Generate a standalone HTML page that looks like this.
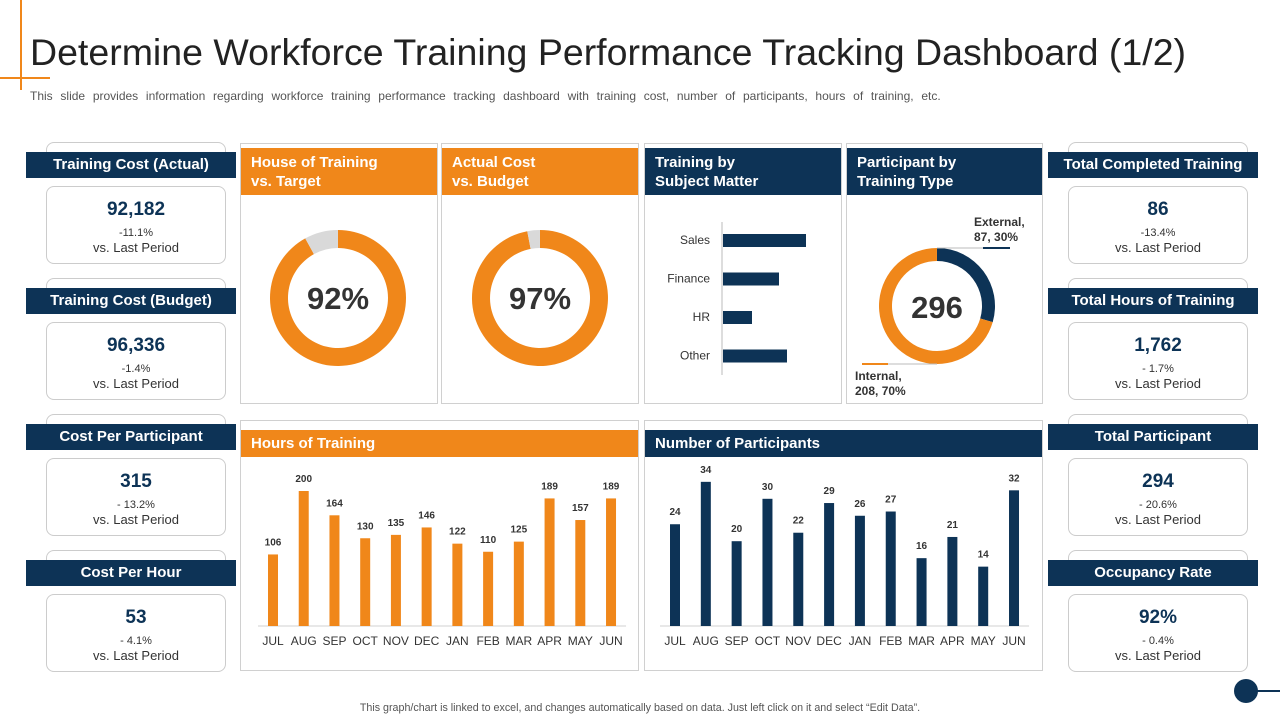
<!DOCTYPE html>
<html><head><meta charset="utf-8"><style>
*{margin:0;padding:0;box-sizing:border-box}
body{width:1280px;height:720px;background:#fff;font-family:"Liberation Sans",Arial,sans-serif;position:relative;overflow:hidden}
.abs{position:absolute}
.hdr{position:absolute;background:#0d3356;color:#fff;font-weight:bold;font-size:15px;text-align:center;line-height:26px;height:26px;width:210px}
.cardtop{position:absolute;border:1px solid #ccc;border-radius:8px;width:180px;height:28px}
.card{position:absolute;border:1px solid #ccc;border-radius:8px;width:180px;height:78px;text-align:center;color:#333}
.card .v{font-size:19px;font-weight:bold;color:#0d3356;margin-top:12px}
.card .p{font-size:11px;margin-top:6px}
.card .l{font-size:13px;margin-top:1px}
.panel{position:absolute;border:1px solid #d0d0d0}
.ph{position:absolute;color:#fff;font-weight:bold;font-size:15px;line-height:19px;padding:5px 10px}
</style></head><body>
<div class="abs" style="left:20px;top:0;width:2px;height:90px;background:#f0871a"></div>
<div class="abs" style="left:0;top:77px;width:50px;height:2px;background:#f0871a"></div>
<div class="abs" style="left:30px;top:31px;font-size:37.5px;color:#222;white-space:nowrap">Determine Workforce Training Performance Tracking Dashboard (1/2)</div>
<div class="abs" style="left:30px;top:89px;font-size:12px;word-spacing:4.4px;color:#555;white-space:nowrap">This slide provides information regarding workforce training performance tracking dashboard with training cost, number of participants, hours of training, etc.</div>

<div class="cardtop" style="left:46px;top:142px"></div>
<div class="hdr" style="left:26px;top:152px">Training Cost (Actual)</div>
<div class="card" style="left:46px;top:186px"><div class="v">92,182</div><div class="p">-11.1%</div><div class="l">vs. Last Period</div></div>
<div class="cardtop" style="left:46px;top:278px"></div>
<div class="hdr" style="left:26px;top:288px">Training Cost (Budget)</div>
<div class="card" style="left:46px;top:322px"><div class="v">96,336</div><div class="p">-1.4%</div><div class="l">vs. Last Period</div></div>
<div class="cardtop" style="left:46px;top:414px"></div>
<div class="hdr" style="left:26px;top:424px">Cost Per Participant</div>
<div class="card" style="left:46px;top:458px"><div class="v">315</div><div class="p">- 13.2%</div><div class="l">vs. Last Period</div></div>
<div class="cardtop" style="left:46px;top:550px"></div>
<div class="hdr" style="left:26px;top:560px">Cost Per Hour</div>
<div class="card" style="left:46px;top:594px"><div class="v">53</div><div class="p">- 4.1%</div><div class="l">vs. Last Period</div></div>

<div class="cardtop" style="left:1068px;top:142px"></div>
<div class="hdr" style="left:1048px;top:152px">Total Completed Training</div>
<div class="card" style="left:1068px;top:186px"><div class="v">86</div><div class="p">-13.4%</div><div class="l">vs. Last Period</div></div>
<div class="cardtop" style="left:1068px;top:278px"></div>
<div class="hdr" style="left:1048px;top:288px">Total Hours of Training</div>
<div class="card" style="left:1068px;top:322px"><div class="v">1,762</div><div class="p">- 1.7%</div><div class="l">vs. Last Period</div></div>
<div class="cardtop" style="left:1068px;top:414px"></div>
<div class="hdr" style="left:1048px;top:424px">Total Participant</div>
<div class="card" style="left:1068px;top:458px"><div class="v">294</div><div class="p">- 20.6%</div><div class="l">vs. Last Period</div></div>
<div class="cardtop" style="left:1068px;top:550px"></div>
<div class="hdr" style="left:1048px;top:560px">Occupancy Rate</div>
<div class="card" style="left:1068px;top:594px"><div class="v">92%</div><div class="p">- 0.4%</div><div class="l">vs. Last Period</div></div>

<div class="panel" style="left:240px;top:143px;width:198px;height:261px"></div>
<div class="ph" style="left:241px;top:148px;width:196px;height:47px;background:#f0871a">House of Training<br>vs. Target</div>
<div class="panel" style="left:441px;top:143px;width:198px;height:261px"></div>
<div class="ph" style="left:442px;top:148px;width:196px;height:47px;background:#f0871a">Actual Cost<br>vs. Budget</div>
<div class="panel" style="left:644px;top:143px;width:198px;height:261px"></div>
<div class="ph" style="left:645px;top:148px;width:196px;height:47px;background:#0d3356">Training by<br>Subject Matter</div>
<div class="panel" style="left:846px;top:143px;width:197px;height:261px"></div>
<div class="ph" style="left:847px;top:148px;width:195px;height:47px;background:#0d3356">Participant by<br>Training Type</div>
<div class="panel" style="left:240px;top:420px;width:399px;height:251px"></div>
<div class="ph" style="left:241px;top:430px;width:397px;height:27px;background:#f0871a;padding:4px 10px">Hours of Training</div>
<div class="panel" style="left:644px;top:420px;width:399px;height:251px"></div>
<div class="ph" style="left:645px;top:430px;width:397px;height:27px;background:#0d3356;padding:4px 10px">Number of Participants</div>

<svg id="chart" class="abs" style="left:0;top:0" width="1280" height="720" font-family="Liberation Sans, Arial, sans-serif"></svg>

<div class="abs" style="left:0;width:1280px;top:702px;text-align:center;font-size:10.7px;color:#555">This graph/chart is linked to excel, and changes automatically based on data. Just left click on it and select “Edit Data”.</div>
<div class="abs" style="left:1246px;top:690px;width:34px;height:2px;background:#0d3356"></div>
<div class="abs" style="left:1234px;top:679px;width:24px;height:24px;border-radius:50%;background:#0d3356"></div>

<script>
const months=["JUL","AUG","SEP","OCT","NOV","DEC","JAN","FEB","MAR","APR","MAY","JUN"];
const hoursVals=[106,200,164,130,135,146,122,110,125,189,157,189];
const partVals=[24,34,20,30,22,29,26,27,16,21,14,32];
const subjects=["Sales","Finance","HR","Other"];
const subjectVals=[83,56,29,64];
const hoursPct=92;
const costPct=97;
const typeLabels=["External","Internal"];
const typeVals=[87,208];
const typePct=[30,70];
const typeTotal=296;

const NS="http://www.w3.org/2000/svg";
const svg=document.getElementById('chart');
const OR="#f0871a",NV="#0d3356";
function mk(t,a,txt){const e=document.createElementNS(NS,t);for(const k in a)e.setAttribute(k,a[k]);if(txt!==undefined)e.textContent=txt;svg.appendChild(e);return e;}
function arc(cx,cy,r0,r1,f0,f1){
  const a0=f0*2*Math.PI-Math.PI/2,a1=f1*2*Math.PI-Math.PI/2,lg=(f1-f0)>0.5?1:0;
  const p=(r,a)=>(cx+r*Math.cos(a)).toFixed(2)+" "+(cy+r*Math.sin(a)).toFixed(2);
  return "M"+p(r1,a0)+"A"+r1+" "+r1+" 0 "+lg+" 1 "+p(r1,a1)+"L"+p(r0,a1)+"A"+r0+" "+r0+" 0 "+lg+" 0 "+p(r0,a0)+"Z";
}
function donutPct(cx,cy,pct,name){
  let e=mk('path',{d:arc(cx,cy,50,68,0,pct/100),fill:OR});
  
  
  e=mk('path',{d:arc(cx,cy,50,68,pct/100,0.9999),fill:"#d9d9d9"});
  
  
  e=mk('text',{x:cx,y:cy+11,'text-anchor':'middle','font-size':31,'font-weight':'bold',fill:'#333'},pct+"%");
  
  
}
donutPct(338,298,hoursPct,'hours-vs-target-donut');
donutPct(540,298,costPct,'cost-vs-budget-donut');

const sx=(v)=>722+v;
const sy0=240,sstep=38.5;
let ax=mk('line',{x1:722,y1:222,x2:722,y2:375,stroke:'#bbb'});


subjects.forEach((s,i)=>{
  const y=sy0+i*sstep;
  let b=mk('rect',{x:723,y:y-6,width:sx(subjectVals[i])-722,height:13,fill:NV});
  
  
  let t=mk('text',{x:710,y:y+4,'text-anchor':'end','font-size':12,fill:'#333'},s);
  
  
});

const tot=typeVals[0]+typeVals[1];
let d=mk('path',{d:arc(937,306,45,58,0,typeVals[0]/tot),fill:NV});


d=mk('path',{d:arc(937,306,45,58,typeVals[0]/tot,0.9999),fill:OR});


d=mk('text',{x:937,y:318,'text-anchor':'middle','font-size':31,'font-weight':'bold',fill:'#333'},typeTotal);


mk('line',{x1:937,y1:248,x2:1010,y2:248,stroke:'#bbb'});
mk('line',{x1:983,y1:248,x2:1010,y2:248,stroke:NV,'stroke-width':2});
mk('line',{x1:862,y1:364,x2:937,y2:364,stroke:'#bbb'});
mk('line',{x1:862,y1:364,x2:888,y2:364,stroke:OR,'stroke-width':2});
d=mk('text',{x:974,y:226,'font-size':12,'font-weight':'bold',fill:'#333'},typeLabels[0]+",");


mk('text',{x:974,y:241,'font-size':12,'font-weight':'bold',fill:'#333'},typeVals[0]+", "+typePct[0]+"%");
d=mk('text',{x:855,y:380,'font-size':12,'font-weight':'bold',fill:'#333'},typeLabels[1]+",");


mk('text',{x:855,y:395,'font-size':12,'font-weight':'bold',fill:'#333'},typeVals[1]+", "+typePct[1]+"%");

function barChart(vals,x0,step,scale,color,name){
  const base=626;
  let g=mk('line',{x1:x0-15,y1:base,x2:x0+step*11+15,y2:base,stroke:'#d0d0d0'});
  
  
  vals.forEach((v,i)=>{
    const cx=x0+i*step,h=v*scale;
    let b=mk('rect',{x:cx-5,y:base-h,width:10,height:h,fill:color});
    
    
    let t=mk('text',{x:cx,y:base-h-9,'text-anchor':'middle','font-size':10,'font-weight':'bold',fill:'#333'},v);
    
    
    let m=mk('text',{x:cx,y:645,'text-anchor':'middle','font-size':12,fill:'#333'},months[i]);
    
    
  });
}
barChart(hoursVals,273,30.73,0.675,OR,'hours');
barChart(partVals,675,30.82,4.24,NV,'participants');
</script>
</body></html>
